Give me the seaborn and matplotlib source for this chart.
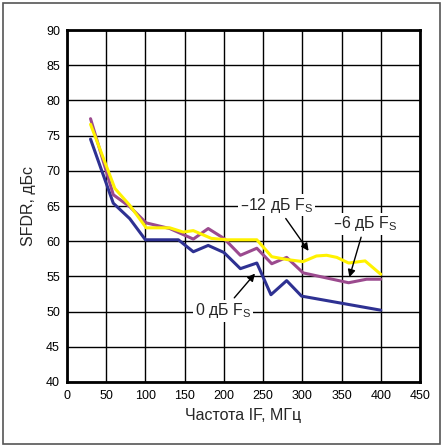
import matplotlib
matplotlib.use("Agg")
import matplotlib.pyplot as plt
import seaborn as sns
import pandas as pd
from matplotlib.patches import Rectangle

# Data
x_0db = [30, 59, 80, 100, 142, 161, 180, 200, 221, 242, 260, 280, 299, 400]
y_0db = [74.5, 65.4, 63.2, 60.2, 60.2, 58.5, 59.4, 58.4, 56.1, 56.9, 52.4, 54.4, 52.2, 50.2]
x_6db = [30, 59, 80, 101, 131, 161, 180, 200, 221, 242, 261, 280, 301, 359, 382, 400]
y_6db = [77.4, 66.6, 64.9, 62.6, 61.8, 60.3, 61.8, 60.4, 58.0, 59.0, 56.8, 57.7, 55.5, 54.1, 54.6, 54.6]
x_12db = [30, 61, 80, 101, 131, 148, 161, 184, 204, 242, 261, 280, 301, 318, 331, 344, 359, 380, 400]
y_12db = [76.6, 67.5, 65.1, 61.9, 61.9, 61.3, 61.5, 60.4, 60.2, 60.2, 57.8, 57.4, 57.1, 57.9, 58.0, 57.7, 56.9, 57.2, 55.3]
series_names = ["0 дБ", "-6 дБ", "-12 дБ"]
xticks = [0, 50, 100, 150, 200, 250, 300, 350, 400, 450]
yticks = [40, 45, 50, 55, 60, 65, 70, 75, 80, 85, 90]

df = pd.concat([
    pd.DataFrame({"f": x_0db, "sfdr": y_0db, "s": series_names[0]}),
    pd.DataFrame({"f": x_6db, "sfdr": y_6db, "s": series_names[1]}),
    pd.DataFrame({"f": x_12db, "sfdr": y_12db, "s": series_names[2]}),
])

sns.set_style("white")
plt.rcParams['font.family'] = ['Liberation Sans', 'DejaVu Sans']

fig = plt.figure(figsize=(4.44, 4.48), dpi=100)
ax = fig.add_axes([67/444, 1-382/448, (420-67)/444, (382-30)/448])

palette = {series_names[0]: "#2e3192", series_names[1]: "#9b4a8e", series_names[2]: "#fff200"}
sns.lineplot(data=df, x="f", y="sfdr", hue="s", palette=palette, sort=False,
             estimator=None, linewidth=2.2, legend=False, ax=ax, zorder=3)

ax.set_xlim(0, 450)
ax.set_ylim(40, 90)
ax.set_xticks(xticks)
ax.set_yticks(yticks)
ax.grid(True, color="black", linewidth=1.0)
ax.set_axisbelow(True)
for sp in ax.spines.values():
    sp.set_color("black")
    sp.set_linewidth(2.0)
ax.tick_params(axis="both", labelsize=9, length=0, colors="black")
ax.tick_params(axis="x", pad=6)
ax.tick_params(axis="y", pad=5)
ax.set_xlabel("Частота IF, МГц", fontsize=11.5, labelpad=4)
ax.set_ylabel("SFDR, дБс", fontsize=11.5, labelpad=7)

bbox = dict(facecolor="white", edgecolor="none", pad=1)
akw = dict(arrowstyle="-|>", color="black", lw=1.0, mutation_scale=11)
fs = 11.5
ax.annotate("–12 дБ F$_\\mathregular{S}$", xy=(310, 58.3), xytext=(267, 65.1),
            ha="center", va="center", fontsize=fs, bbox=bbox, arrowprops=akw, zorder=5)
ax.annotate("–6 дБ F$_\\mathregular{S}$", xy=(359, 54.5), xytext=(380, 62.5),
            ha="center", va="center", fontsize=fs, bbox=bbox, arrowprops=akw, zorder=5)
ax.annotate("0 дБ F$_\\mathregular{S}$", xy=(242, 55.7), xytext=(199, 50.1),
            ha="center", va="center", fontsize=fs, bbox=bbox, arrowprops=akw, zorder=5)

fig.patches.append(Rectangle((3/444, 4/448), 437/444, 441/448, transform=fig.transFigure,
                             fill=False, edgecolor="#555555", linewidth=1.2))

fig.savefig("out.png", dpi=100)
